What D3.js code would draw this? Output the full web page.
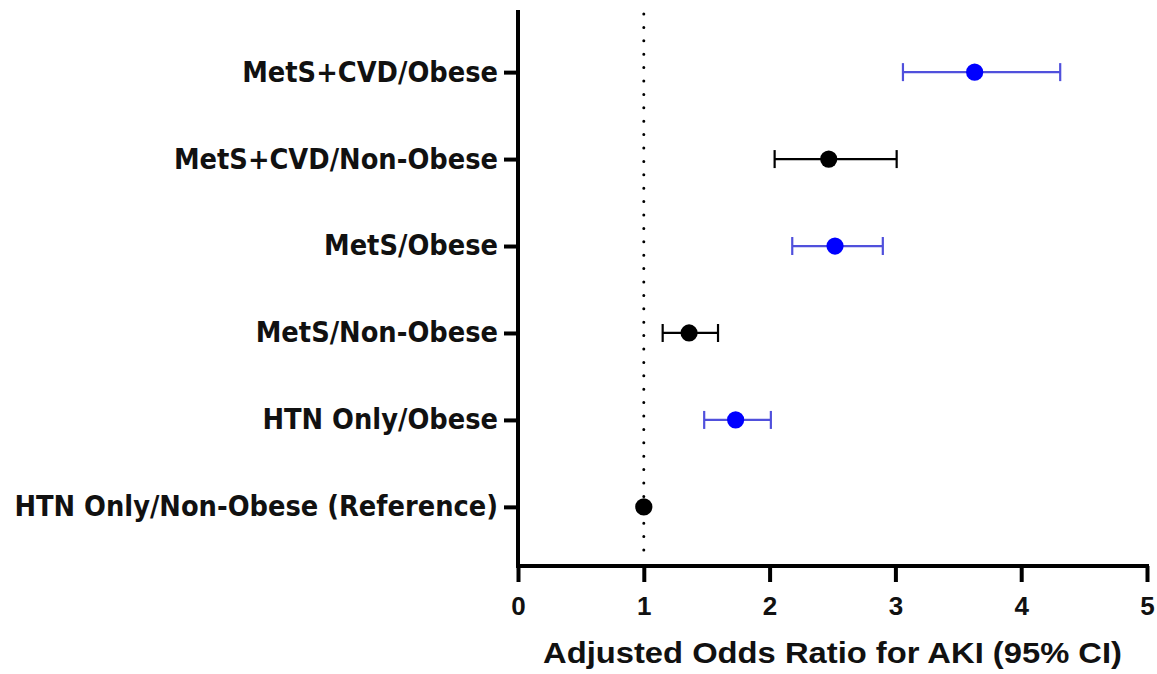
<!DOCTYPE html>
<html>
<head>
<meta charset="utf-8">
<script src="https://cdn.jsdelivr.net/npm/d3@7"></script>
<style>
  html, body { margin: 0; padding: 0; background: #fff; }
  svg { display: block; }
</style>
</head>
<body>
<svg id="chart" width="1157" height="674"></svg>
<script>
// Groups, top to bottom
const categories = [
  "MetS+CVD/Obese",
  "MetS+CVD/Non-Obese",
  "MetS/Obese",
  "MetS/Non-Obese",
  "HTN Only/Obese",
  "HTN Only/Non-Obese (Reference)"
];
// Adjusted odds ratios with 95% confidence limits
const oddsRatio = [3.63, 2.47, 2.52, 1.36, 1.73, 1.00];
const ciLower   = [3.06, 2.04, 2.18, 1.15, 1.48, 1.00];
const ciUpper   = [4.31, 3.01, 2.90, 1.59, 2.01, 1.00];
const obese     = [true, false, true, false, true, false];
const xTicks    = [0, 1, 2, 3, 4, 5];
const refValue  = 1;

const rows = categories.map((c, i) => ({
  name: c, or: oddsRatio[i], lo: ciLower[i], hi: ciUpper[i], obese: obese[i]
}));

const svg = d3.select("#chart");
const plotLeft = 518, plotRight = 1147, plotTop = 10, plotBottom = 566;

const x = d3.scaleLinear().domain([0, 5]).range([plotLeft, plotRight]);
const y = d3.scalePoint().domain(categories).range([plotTop + 3, plotBottom]).padding(0.68);

const pointColor = d => d.obese ? "#0000ff" : "#000000";
const barColor = d => d.obese ? "#5050dc" : "#000000";

// Reference line at OR = 1
svg.append("line")
  .attr("x1", x(refValue)).attr("x2", x(refValue))
  .attr("y1", plotTop + 4).attr("y2", plotBottom - 4)
  .attr("stroke", "#000")
  .attr("stroke-width", 3)
  .attr("stroke-linecap", "round")
  .attr("stroke-dasharray", "0 13.4");

// Confidence intervals
const g = svg.append("g");
const err = g.selectAll("g.err").data(rows.filter(d => d.hi > d.lo)).join("g").attr("class", "err");
err.append("line")
  .attr("x1", d => x(d.lo)).attr("x2", d => x(d.hi))
  .attr("y1", d => y(d.name)).attr("y2", d => y(d.name))
  .attr("stroke", barColor).attr("stroke-width", 2.2);
err.append("line")
  .attr("x1", d => x(d.lo)).attr("x2", d => x(d.lo))
  .attr("y1", d => y(d.name) - 9).attr("y2", d => y(d.name) + 9)
  .attr("stroke", barColor).attr("stroke-width", 2.2);
err.append("line")
  .attr("x1", d => x(d.hi)).attr("x2", d => x(d.hi))
  .attr("y1", d => y(d.name) - 9).attr("y2", d => y(d.name) + 9)
  .attr("stroke", barColor).attr("stroke-width", 2.2);

// Point estimates
g.selectAll("circle").data(rows).join("circle")
  .attr("cx", d => x(d.or)).attr("cy", d => y(d.name))
  .attr("r", 8.6)
  .attr("fill", pointColor);

// Y axis with group labels
const yAxis = svg.append("g")
  .attr("transform", `translate(${plotLeft},0)`)
  .call(d3.axisLeft(y).tickSize(14).tickSizeOuter(0).tickPadding(6));
yAxis.select(".domain").remove();
yAxis.append("line")
  .attr("x1", 0).attr("x2", 0)
  .attr("y1", plotTop).attr("y2", plotBottom + 2)
  .attr("stroke", "#000").attr("stroke-width", 4);
yAxis.selectAll(".tick line").attr("stroke", "#000").attr("stroke-width", 4);
yAxis.selectAll(".tick text")
  .attr("fill", "#111")
  .style("font-family", "'DejaVu Sans', Verdana, sans-serif")
  .style("font-weight", "bold")
  .style("font-size", "28px")
  .each(function () {
    // slightly condensed lettering
    const w = this.getComputedTextLength();
    d3.select(this).attr("textLength", w * 0.92).attr("lengthAdjust", "spacingAndGlyphs");
  });

// X axis
const xAxis = svg.append("g")
  .attr("transform", `translate(0,${plotBottom})`)
  .call(d3.axisBottom(x).tickValues(xTicks).tickFormat(d3.format("d"))
    .tickSize(16).tickSizeOuter(0).tickPadding(15));
xAxis.select(".domain").remove();
xAxis.append("line")
  .attr("x1", plotLeft - 2).attr("x2", plotRight + 2)
  .attr("y1", 0).attr("y2", 0)
  .attr("stroke", "#000").attr("stroke-width", 4);
xAxis.selectAll(".tick line").attr("stroke", "#000").attr("stroke-width", 4);
xAxis.selectAll(".tick text")
  .attr("fill", "#111")
  .style("font-family", "'Liberation Sans', Arial, sans-serif")
  .style("font-weight", "bold")
  .style("font-size", "26px");

// X axis title
svg.append("text")
  .attr("x", (plotLeft + plotRight) / 2)
  .attr("y", 663)
  .attr("text-anchor", "middle")
  .attr("fill", "#111")
  .style("font-family", "'Liberation Sans', Arial, sans-serif")
  .style("font-weight", "bold")
  .style("font-size", "30px")
  .attr("textLength", 579)
  .attr("lengthAdjust", "spacingAndGlyphs")
  .text("Adjusted Odds Ratio for AKI (95% CI)");
</script>
</body>
</html>
